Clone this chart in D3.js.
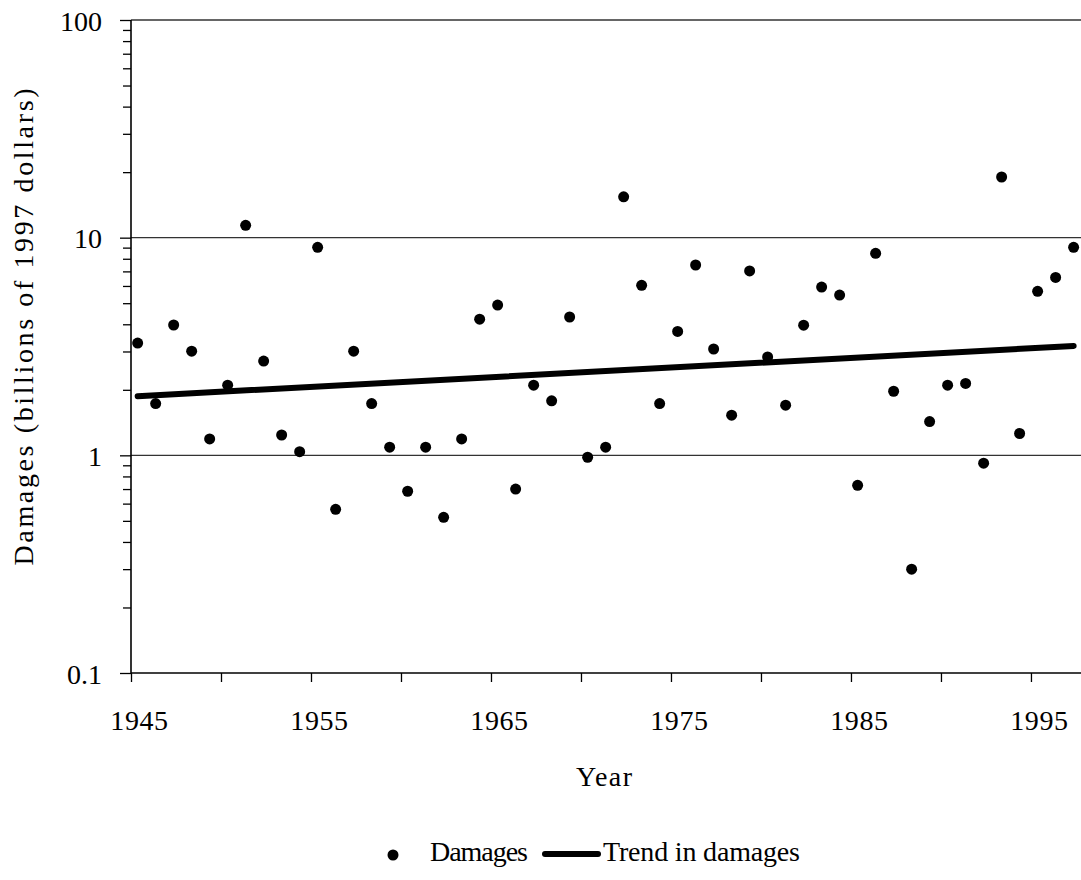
<!DOCTYPE html>
<html>
<head>
<meta charset="utf-8">
<script src="https://cdn.jsdelivr.net/npm/d3@7"></script>
<style>
  body { margin: 0; background: #fff; }
  text { font-family: "Liberation Serif", "Times New Roman", serif; fill: #000; }
</style>
</head>
<body>
<script>
//--------------------------------------- data ------------------------------------------------------------
const years = [
  1945, 1946, 1947, 1948, 1949, 1950, 1951, 1952, 1953, 1954,
  1955, 1956, 1957, 1958, 1959, 1960, 1961, 1962, 1963, 1964,
  1965, 1966, 1967, 1968, 1969, 1970, 1971, 1972, 1973, 1974,
  1975, 1976, 1977, 1978, 1979, 1980, 1981, 1982, 1983, 1984,
  1985, 1986, 1987, 1988, 1989, 1990, 1991, 1992, 1993, 1994,
  1995, 1996, 1997];

// damages, billions of 1997 dollars
const damages = [
  3.28, 1.73, 3.97, 3.01, 1.19, 2.10, 11.4, 2.71, 1.24, 1.04,
  9.03, 0.565, 3.01, 1.73, 1.09, 0.684, 1.09, 0.519, 1.19, 4.22,
  4.90, 0.70, 2.10, 1.78, 4.32, 0.98, 1.09, 15.4, 6.04, 1.73,
  3.71, 7.49, 3.08, 1.53, 7.03, 2.83, 1.70, 3.96, 5.93, 5.45,
  0.728, 8.47, 1.97, 0.30, 1.43, 2.10, 2.14, 0.92, 19.0, 1.26,
  5.67, 6.57, 9.03];

const trendYears = [1945, 1997];
const trendValues = [1.87, 3.18];

const xTicks = [1945, 1950, 1955, 1960, 1965, 1970, 1975, 1980, 1985, 1990, 1995];
const xLabels = [1945, 1955, 1965, 1975, 1985, 1995];
const yMajor = [0.1, 1, 10, 100];
const yLabels = ["0.1", "1", "10", "100"];
const gridValues = [1, 10, 100];

//--------------------------------------- init ------------------------------------------------------------
const width = 1081,
    height = 880,
    plotLeft = 131,
    plotRight = 1081,
    plotTop = 20,
    plotBottom = 673,
    dotShift = 0.37;   // points sit a little right of the year tick

const xScale = d3.scaleLinear().domain([1945, 1997.78]).range([plotLeft, plotRight]);
const yScale = d3.scaleLog().domain([0.1, 100]).range([plotBottom, plotTop]);

// minor ticks 0.1..100
const yMinor = [];
[0.1, 1, 10].forEach(function(d) {
  for (let k = 2; k <= 9; k++) yMinor.push(+(d * k).toPrecision(3));
});

const svg = d3.select("body").append("svg")
    .attr("width", width)
    .attr("height", height);

//----------------------------- grid --------------------------------
svg.append("g")
  .selectAll("line")
  .data(gridValues)
  .join("line")
  .attr("x1", plotLeft)
  .attr("x2", plotRight)
  .attr("y1", d => yScale(d))
  .attr("y2", d => yScale(d))
  .attr("stroke", "#333")
  .attr("stroke-width", 1.3);

//----------------------------- axes --------------------------------
const yAxis = d3.axisLeft(yScale)
    .tickValues(yMinor.concat(yMajor))
    .tickSize(8)
    .tickFormat(d => {
      const i = yMajor.indexOf(d);
      return i >= 0 ? yLabels[i] : "";
    });

const gy = svg.append("g")
  .attr("transform", `translate(${plotLeft},0)`)
  .call(yAxis);
gy.select(".domain").remove();
gy.selectAll(".tick line")
  .attr("x2", d => yMajor.indexOf(d) >= 0 ? -11 : -8)
  .attr("stroke", "#000")
  .attr("stroke-width", 1.3);
gy.selectAll(".tick text")
  .attr("x", -29)
  .attr("dy", null)
  .attr("y", 10)
  .attr("font-size", 28)
  .style("font-family", '"Liberation Serif", "Times New Roman", serif');

const xAxis = d3.axisBottom(xScale)
    .tickValues(xTicks)
    .tickSize(9)
    .tickFormat(d => xLabels.indexOf(d) >= 0 ? String(d) : "");

const gx = svg.append("g")
  .attr("transform", `translate(0,${plotBottom})`)
  .call(xAxis);
gx.select(".domain").remove();
gx.selectAll(".tick line")
  .attr("stroke", "#000")
  .attr("stroke-width", 1.3);
gx.selectAll(".tick text")
  .attr("dy", null)
  .attr("y", 57)
  .attr("x", 8)
  .attr("font-size", 28)
  .attr("letter-spacing", 0.6)
  .style("font-family", '"Liberation Serif", "Times New Roman", serif');

// axis lines
svg.append("line")
  .attr("x1", plotLeft).attr("x2", plotLeft)
  .attr("y1", plotTop).attr("y2", plotBottom)
  .attr("stroke", "#000").attr("stroke-width", 1.6);
svg.append("line")
  .attr("x1", plotLeft).attr("x2", plotRight)
  .attr("y1", plotBottom).attr("y2", plotBottom)
  .attr("stroke", "#000").attr("stroke-width", 1.6);

//----------------------------- trend --------------------------------
const trendLine = d3.line()
    .x(d => xScale(d[0] + dotShift))
    .y(d => yScale(d[1]));

svg.append("path")
  .datum(trendYears.map((y, i) => [y, trendValues[i]]))
  .attr("d", trendLine)
  .attr("fill", "none")
  .attr("stroke", "#000")
  .attr("stroke-width", 6)
  .attr("stroke-linecap", "round");

//----------------------------- points --------------------------------
svg.append("g")
  .selectAll("circle")
  .data(years.map((y, i) => ({year: y, value: damages[i]})))
  .join("circle")
  .attr("cx", d => xScale(d.year + dotShift))
  .attr("cy", d => yScale(d.value))
  .attr("r", 5.5)
  .attr("fill", "#000");

//----------------------------- titles --------------------------------
svg.append("text")
  .attr("transform", "translate(33,327) rotate(-90)")
  .attr("text-anchor", "middle")
  .attr("font-size", 28)
  .attr("textLength", 477)
  .attr("lengthAdjust", "spacing")
  .text("Damages (billions of 1997 dollars)");

svg.append("text")
  .attr("x", 604)
  .attr("y", 786)
  .attr("text-anchor", "middle")
  .attr("font-size", 28)
  .attr("textLength", 56)
  .attr("lengthAdjust", "spacing")
  .text("Year");

//----------------------------- legend --------------------------------
const legend = svg.append("g");
legend.append("circle")
  .attr("cx", 393).attr("cy", 855).attr("r", 5.5)
  .attr("fill", "#000");
legend.append("text")
  .attr("x", 430).attr("y", 861)
  .attr("font-size", 28)
  .attr("textLength", 98)
  .attr("lengthAdjust", "spacing")
  .text("Damages");
legend.append("line")
  .attr("x1", 545).attr("x2", 598)
  .attr("y1", 854).attr("y2", 854)
  .attr("stroke", "#000").attr("stroke-width", 6)
  .attr("stroke-linecap", "round");
legend.append("text")
  .attr("x", 603).attr("y", 861)
  .attr("font-size", 28)
  .attr("textLength", 197)
  .attr("lengthAdjust", "spacing")
  .text("Trend in damages");
</script>
</body>
</html>
